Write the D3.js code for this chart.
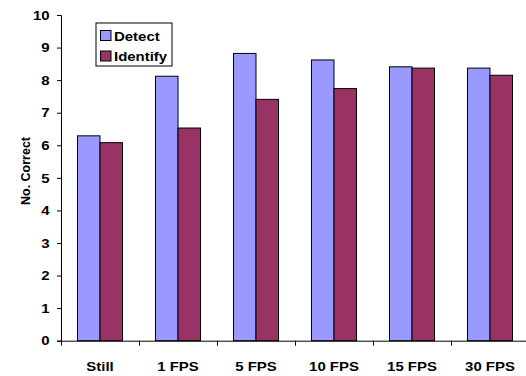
<!DOCTYPE html>
<html>
<head>
<meta charset="utf-8">
<script src="https://cdn.jsdelivr.net/npm/d3@7"></script>
<style>
  html, body { margin: 0; padding: 0; background: #fff; }
  svg { display: block; }
  text { font-family: "Liberation Sans", Arial, sans-serif; font-weight: bold; fill: #000; }
</style>
</head>
<body>
<svg id="chart" width="526" height="376"></svg>
<script>
// chart data
const categories = ['Still', '1 FPS', '5 FPS', '10 FPS', '15 FPS', '30 FPS'];
const seriesNames = ['Detect', 'Identify'];
const detect = [6.29, 8.12, 8.82, 8.62, 8.41, 8.37];
const identify = [6.08, 6.53, 7.41, 7.74, 8.37, 8.15];
const yTicks = [0, 1, 2, 3, 4, 5, 6, 7, 8, 9, 10];
const colors = ['#9999FF', '#993366'];

const svg = d3.select('#chart');
const margin = { left: 61, top: 15, plotRight: 529, bottom: 340.7 };
const stretch = 1.15; // the original picture's text is a bit wide

const x0 = d3.scaleBand()
  .domain(categories)
  .range([margin.left, margin.plotRight])
  .padding(0);

const x1 = d3.scaleBand()
  .domain(seriesNames)
  .range([0, x0.bandwidth()])
  .paddingInner(0)
  .paddingOuter(0.733);

const y = d3.scaleLinear()
  .domain([0, 10])
  .range([margin.bottom, margin.top]);

const rows = categories.map((c, i) => ({ cat: c, values: [detect[i], identify[i]] }));

// bars
const groups = svg.append('g')
  .selectAll('g')
  .data(rows)
  .enter()
  .append('g')
  .attr('transform', d => `translate(${x0(d.cat)},0)`);

groups.selectAll('rect')
  .data(d => d.values.map((v, j) => ({ name: seriesNames[j], value: v, j })))
  .enter()
  .append('rect')
  .attr('x', d => x1(d.name))
  .attr('y', d => y(d.value))
  .attr('width', x1.bandwidth())
  .attr('height', d => margin.bottom - y(d.value))
  .attr('fill', d => colors[d.j])
  .attr('stroke', '#000')
  .attr('stroke-width', 1);

// y axis
const yAxis = svg.append('g')
  .attr('transform', `translate(${margin.left},0)`)
  .call(d3.axisLeft(y).tickValues(yTicks).tickSize(4).tickPadding(7.5));
yAxis.select('.domain').attr('stroke', '#000');
yAxis.selectAll('text')
  .style('font-size', '13px')
  .style('font-family', '"Liberation Sans", Arial, sans-serif')
  .style('font-weight', 'bold');

// x axis
const xAxis = svg.append('g')
  .attr('transform', `translate(0,${margin.bottom})`)
  .call(d3.axisBottom(x0).tickSize(0).tickPadding(21));
xAxis.select('.domain').attr('stroke', '#000');
xAxis.selectAll('text')
  .style('font-size', '13px')
  .style('font-family', '"Liberation Sans", Arial, sans-serif')
  .style('font-weight', 'bold');

// x tick marks at category boundaries
xAxis.selectAll('.bound')
  .data(categories)
  .enter()
  .append('line')
  .attr('x1', d => x0(d) + 0.5)
  .attr('x2', d => x0(d) + 0.5)
  .attr('y1', 0)
  .attr('y2', 5)
  .attr('stroke', '#000');

// y label
svg.append('text')
  .attr('transform', `translate(29.5,171) rotate(-90)`)
  .attr('text-anchor', 'middle')
  .style('font-size', '12.5px')
  .text('No. Correct');

// legend
const legend = svg.append('g').attr('transform', 'translate(96,23)');
legend.append('rect')
  .attr('width', 76)
  .attr('height', 43)
  .attr('fill', '#fff')
  .attr('stroke', '#000');

seriesNames.forEach((name, i) => {
  legend.append('rect')
    .attr('x', 4.5)
    .attr('y', 7.5 + i * 20.5)
    .attr('width', 10.5)
    .attr('height', 10)
    .attr('fill', colors[i])
    .attr('stroke', '#000');
  legend.append('text')
    .attr('class', 'wide')
    .attr('x', 18)
    .attr('y', 17.5 + i * 20.5)
    .style('font-size', '13px')
    .text(name);
});

// widen tick and legend text like the original
svg.selectAll('.tick text, text.wide').each(function() {
  const w = this.getComputedTextLength();
  d3.select(this)
    .attr('textLength', w * stretch)
    .attr('lengthAdjust', 'spacingAndGlyphs');
});
</script>
</body>
</html>
